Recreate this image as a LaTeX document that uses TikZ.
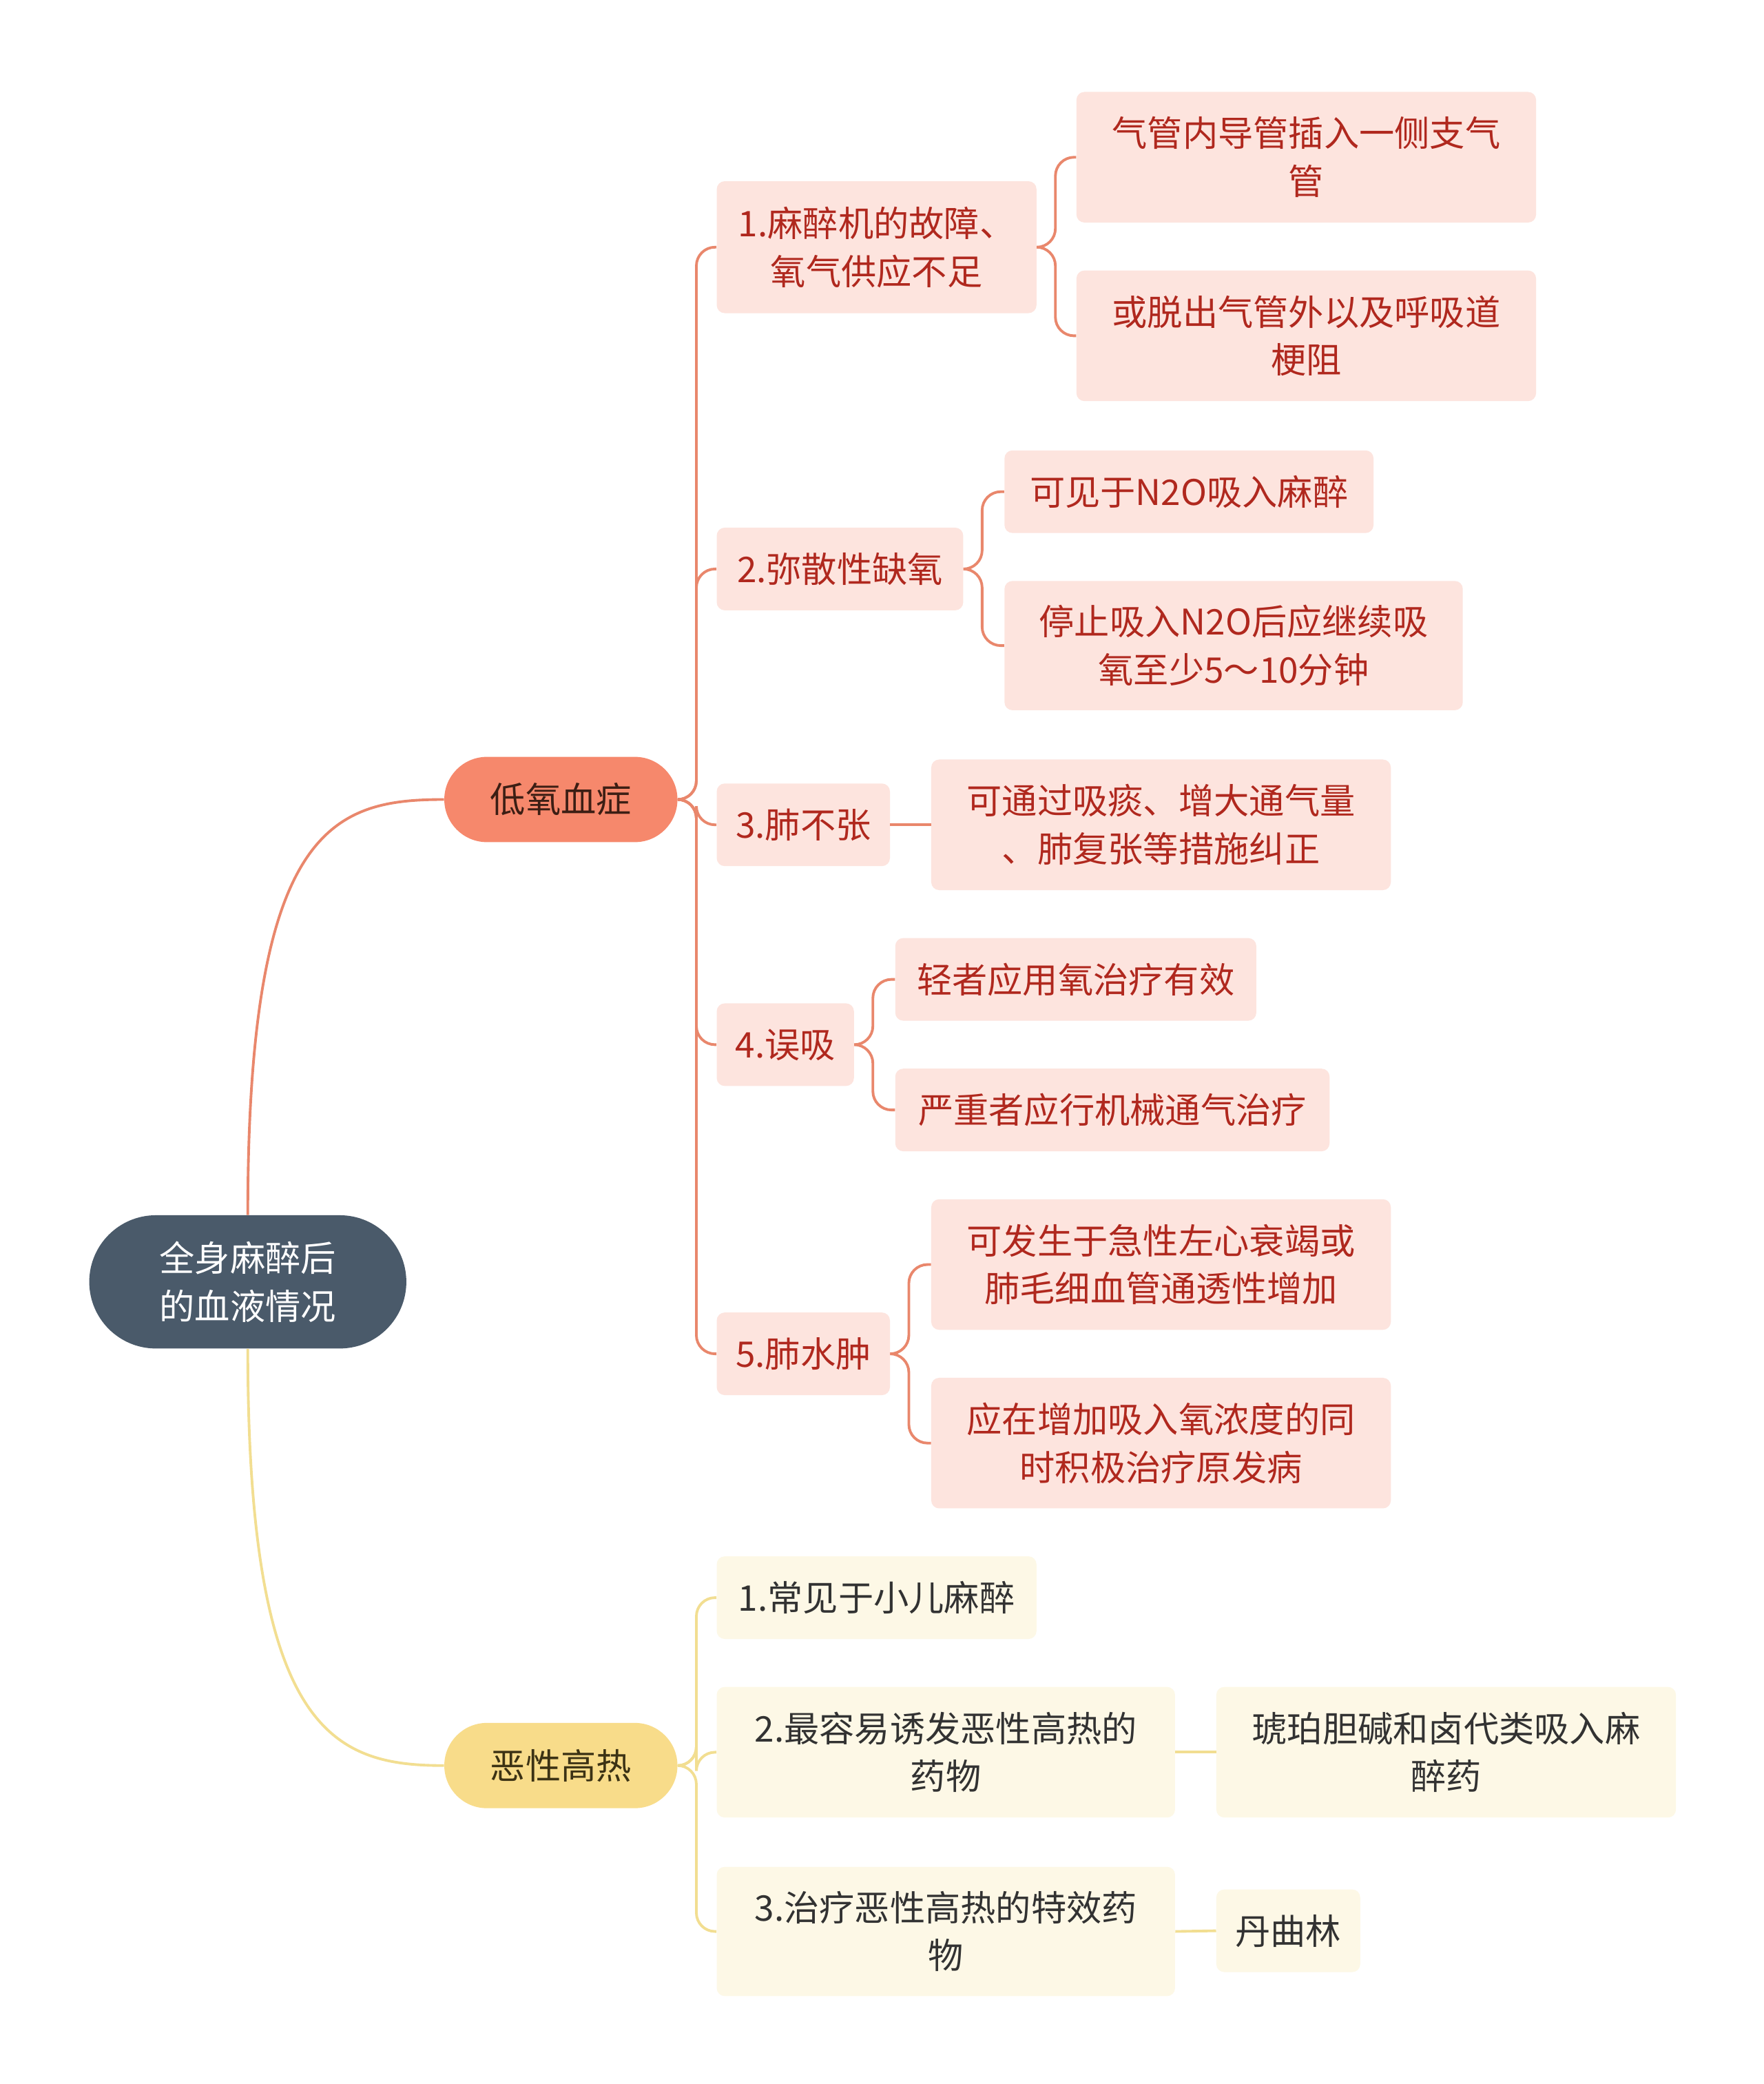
\documentclass[tikz,border=0pt]{standalone}
\usepackage{fontspec}
\setmainfont{Noto Sans CJK SC}
\begin{document}
\begin{tikzpicture}[x=1pt,y=-1pt,
  base/.style={inner sep=0pt,align=center,font=\fontsize{26.5}{36}\selectfont},
  hyp/.style={base,fill={rgb,255:red,253;green,228;blue,222},rounded corners=6pt,text={rgb,255:red,176;green,40;blue,30}},
  fev/.style={base,fill={rgb,255:red,253;green,248;blue,230},rounded corners=6pt,text={rgb,255:red,50;green,50;blue,50}},
  hl/.style={draw={rgb,255:red,233;green,135;blue,108},line width=2pt,rounded corners=14pt},
  fl/.style={draw={rgb,255:red,242;green,222;blue,145},line width=2pt,rounded corners=14pt}]
\useasboundingbox (0,0) rectangle (1324,1564);
\fill[white] (0,0) rectangle (1324,1564);
\newcommand\bx[7]{\node[#6,minimum width={(#4-#2)*1pt},minimum height={(#5-#3)*1pt}] (#1) at ({(#2+#4)/2},{(#3+#5)/2}) {#7};}
\node[base,fill={rgb,255:red,74;green,90;blue,106},text=white,rounded corners=50pt,minimum width=238pt,minimum height=100pt] (root) at (186,962) {全身麻醉后\\的血液情况};
\node[base,fill={rgb,255:red,246;green,136;blue,108},text={rgb,255:red,60;green,30;blue,20},rounded corners=32pt,minimum width=175pt,minimum height=64pt] (h) at (421,600) {低氧血症};
\node[base,fill={rgb,255:red,248;green,220;blue,138},text={rgb,255:red,60;green,50;blue,20},rounded corners=32pt,minimum width=175pt,minimum height=64pt] (f) at (421,1325) {恶性高热};
\bx{h1}{538}{136}{778}{235}{hyp}{1.麻醉机的故障、\\氧气供应不足}
\bx{h2}{538}{396}{723}{458}{hyp}{2.弥散性缺氧}
\bx{h3}{538}{588}{668}{650}{hyp}{3.肺不张}
\bx{h4}{538}{753}{641}{815}{hyp}{4.误吸}
\bx{h5}{538}{985}{668}{1047}{hyp}{5.肺水肿}
\bx{a1}{808}{69}{1153}{167}{hyp}{气管内导管插入一侧支气\\管}
\bx{a2}{808}{203}{1153}{301}{hyp}{或脱出气管外以及呼吸道\\梗阻}
\bx{b1}{754}{338}{1031}{400}{hyp}{可见于N2O吸入麻醉}
\bx{b2}{754}{436}{1098}{533}{hyp}{停止吸入N2O后应继续吸\\氧至少5～10分钟}
\bx{c1}{699}{570}{1044}{668}{hyp}{可通过吸痰、增大通气量\\、肺复张等措施纠正}
\bx{d1}{672}{704}{943}{766}{hyp}{轻者应用氧治疗有效}
\bx{d2}{672}{802}{998}{864}{hyp}{严重者应行机械通气治疗}
\bx{e1}{699}{900}{1044}{998}{hyp}{可发生于急性左心衰竭或\\肺毛细血管通透性增加}
\bx{e2}{699}{1034}{1044}{1132}{hyp}{应在增加吸入氧浓度的同\\时积极治疗原发病}
\bx{f1}{538}{1168}{778}{1230}{fev}{1.常见于小儿麻醉}
\bx{f2}{538}{1266}{882}{1364}{fev}{2.最容易诱发恶性高热的\\药物}
\bx{f3}{538}{1401}{882}{1498}{fev}{3.治疗恶性高热的特效药\\物}
\bx{g1}{913}{1266}{1258}{1364}{fev}{琥珀胆碱和卤代类吸入麻\\醉药}
\bx{g2}{913}{1418}{1021}{1480}{fev}{丹曲林}
\draw[hl,rounded corners=0pt] (root.north) .. controls (186,620) and (250,600) .. (h.west);
\draw[fl,rounded corners=0pt] (root.south) .. controls (186,1300) and (250,1325) .. (f.west);
\foreach \c in {h1,h2,h3,h4,h5} \draw[hl] (h.east) -- ++(14,0) |- (\c.west);
\foreach \c in {a1,a2} \draw[hl] (h1.east) -- ++(14,0) |- (\c.west);
\foreach \c in {b1,b2} \draw[hl] (h2.east) -- ++(14,0) |- (\c.west);
\draw[hl] (h3.east) -- (c1.west);
\foreach \c in {d1,d2} \draw[hl] (h4.east) -- ++(14,0) |- (\c.west);
\foreach \c in {e1,e2} \draw[hl] (h5.east) -- ++(14,0) |- (\c.west);
\foreach \c in {f1,f2,f3} \draw[fl] (f.east) -- ++(14,0) |- (\c.west);
\draw[fl] (f2.east) -- (g1.west);
\draw[fl] (f3.east) -- (g2.west);
\end{tikzpicture}
\end{document}
